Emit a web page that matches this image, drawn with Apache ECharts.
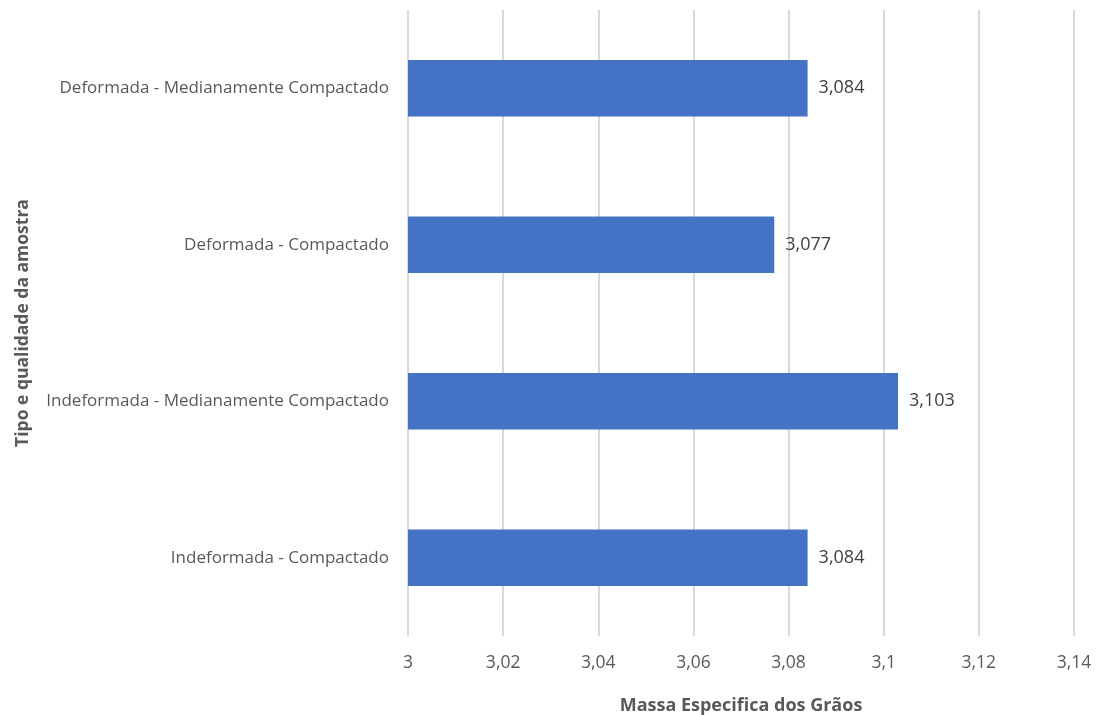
<!DOCTYPE html>
<html>
<head>
<meta charset="utf-8">
<script src="https://cdn.jsdelivr.net/npm/echarts@6/dist/echarts.min.js"></script>
<style>html,body{margin:0;padding:0;background:#fff}#c{width:1096px;height:715px}</style>
</head>
<body>
<div id="c"></div>
<script>
const categories = ["Indeformada - Compactado", "Indeformada - Medianamente Compactado", "Deformada - Compactado", "Deformada - Medianamente Compactado"];
const values = [3.084, 3.103, 3.077, 3.084];
const xTitle = "Massa Especifica dos Grãos";
const yTitle = "Tipo e qualidade da amostra";
const fmt = v => String(+(+v).toFixed(4)).replace('.', ',');
const font = "'Open Sans', sans-serif";
const chart = echarts.init(document.getElementById('c'));
chart.setOption({
  animation: false,
  grid: {left: 408, right: 22, top: 10, bottom: 79, containLabel: false, outerBoundsMode: 'none'},
  xAxis: {
    type: 'value', min: 3, max: 3.14, interval: 0.02,
    name: xTitle, nameLocation: 'middle', nameGap: 61,
    nameTextStyle: {fontFamily: font, fontSize: 18, fontWeight: 'bold', color: '#595959'},
    axisLine: {show: false}, axisTick: {show: false},
    axisLabel: {formatter: fmt, fontFamily: font, fontSize: 17.5, color: '#595959', margin: 18},
    splitLine: {lineStyle: {color: '#d9d9d9', width: 2}}
  },
  yAxis: {
    type: 'category', data: categories,
    name: yTitle, nameLocation: 'middle', nameGap: 376, nameRotate: 90,
    nameTextStyle: {fontFamily: font, fontSize: 17.5, fontWeight: 'bold', color: '#595959'},
    axisLine: {show: false}, axisTick: {show: false},
    axisLabel: {fontFamily: font, fontSize: 17, color: '#595959', margin: 19}
  },
  series: [{
    type: 'bar', data: values, barWidth: '36%',
    itemStyle: {color: '#4472C4'},
    label: {show: true, position: 'right', distance: 11, formatter: p => fmt(p.value), fontFamily: font, fontSize: 18, color: '#404040'}
  }]
});
</script>
</body>
</html>
